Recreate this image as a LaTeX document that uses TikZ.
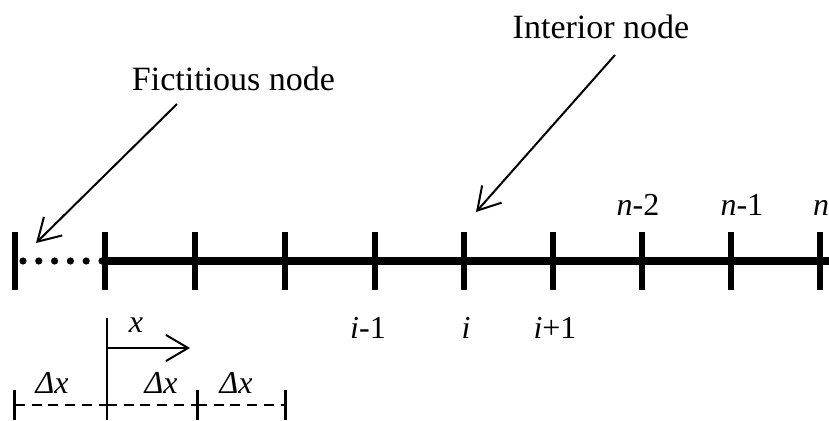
\documentclass[tikz,border=0pt]{standalone}
\usepackage{fontspec}
\setmainfont{Liberation Serif}
\usetikzlibrary{arrows.meta}
\begin{document}
\begin{tikzpicture}[x=1pt,y=-1pt,
  headlbl/.style={font=\fontsize{34}{40}\selectfont, inner sep=0pt, anchor=base},
  lbl/.style={font=\fontsize{32}{36}\selectfont, inner sep=0pt, anchor=base},
  thinln/.style={line width=2pt},
  ptr/.style={thinln, -{Straight Barb[length=22pt,width=26pt,line width=2pt]}},
  tickln/.style={line width=6pt},
  axisln/.style={line width=8pt},
  smallln/.style={line width=2.2pt},
  endtick/.style={line width=3pt},
  dashln/.style={line width=2pt, dash pattern=on 10pt off 6.7pt}
]
\useasboundingbox (0,0) rectangle (829,420);
% tick positions
\foreach \n/\x in {0/15,1/105,2/195,3/285,4/375,5/464,6/553,7/642,8/731,9/820}{
  \coordinate (t\n) at (\x,261);
}
% main axis
\coordinate (axend) at (832,261);
\draw[axisln] (103,261) -- (axend);
\foreach \n in {0,...,9}{
  \draw[tickln] ([yshift=-29pt]t\n) -- ([yshift=29pt]t\n);
}
% fictitious dots
\foreach \x in {23,38.8,54.6,70.4,86.2,102}{
  \fill (\x,261) circle (3.6pt);
}
% top labels
\node[headlbl] (fict) at (233.5,90) {Fictitious node};
\node[headlbl] (inter) at (601,38) {Interior node};
\coordinate (fs) at (177,104);
\coordinate (fe) at (36,243);
\coordinate (is) at (615,55);
\coordinate (ie) at (476,212);
\draw[ptr] (fs) -- (fe);
\draw[ptr] (is) -- (ie);
% n labels
\node[lbl] (nm2) at (638,215) {\textit{n}-2};
\node[lbl] (nm1) at (742,215) {\textit{n}-1};
\node[lbl, anchor=base west] (nn) at (813,215) {\textit{n}};
% i labels
\node[lbl] (im1) at (368,338) {\textit{i}-1};
\node[lbl] (ii) at (466,338) {\textit{i}};
\node[lbl] (ip1) at (555,338) {\textit{i}+1};
% x axis arrow
\coordinate (xo) at (107,318);
\coordinate (xb) at (107,420);
\coordinate (xa0) at (107,348);
\coordinate (xa1) at (190,348);
\draw[smallln] (xo) -- (xb);
\draw[ptr] (xa0) -- (xa1);
\node[lbl] (xl) at (136,332) {\textit{x}};
% delta x
\coordinate (d0) at (15,405);
\coordinate (d1) at (107,405);
\coordinate (d2) at (197,405);
\coordinate (d3) at (285,405);
\draw[dashln] (d0) -- (d1);
\draw[dashln] (d1) -- (d2);
\draw[dashln] (d2) -- (d3);
\foreach \x in {14,197,285}{
  \draw[endtick] (\x,390) -- (\x,420);
}
\node[lbl] (dx1) at (52,393) {\textit{Δx}};
\node[lbl] (dx2) at (161,393) {\textit{Δx}};
\node[lbl] (dx3) at (236,393) {\textit{Δx}};
\end{tikzpicture}
\end{document}
